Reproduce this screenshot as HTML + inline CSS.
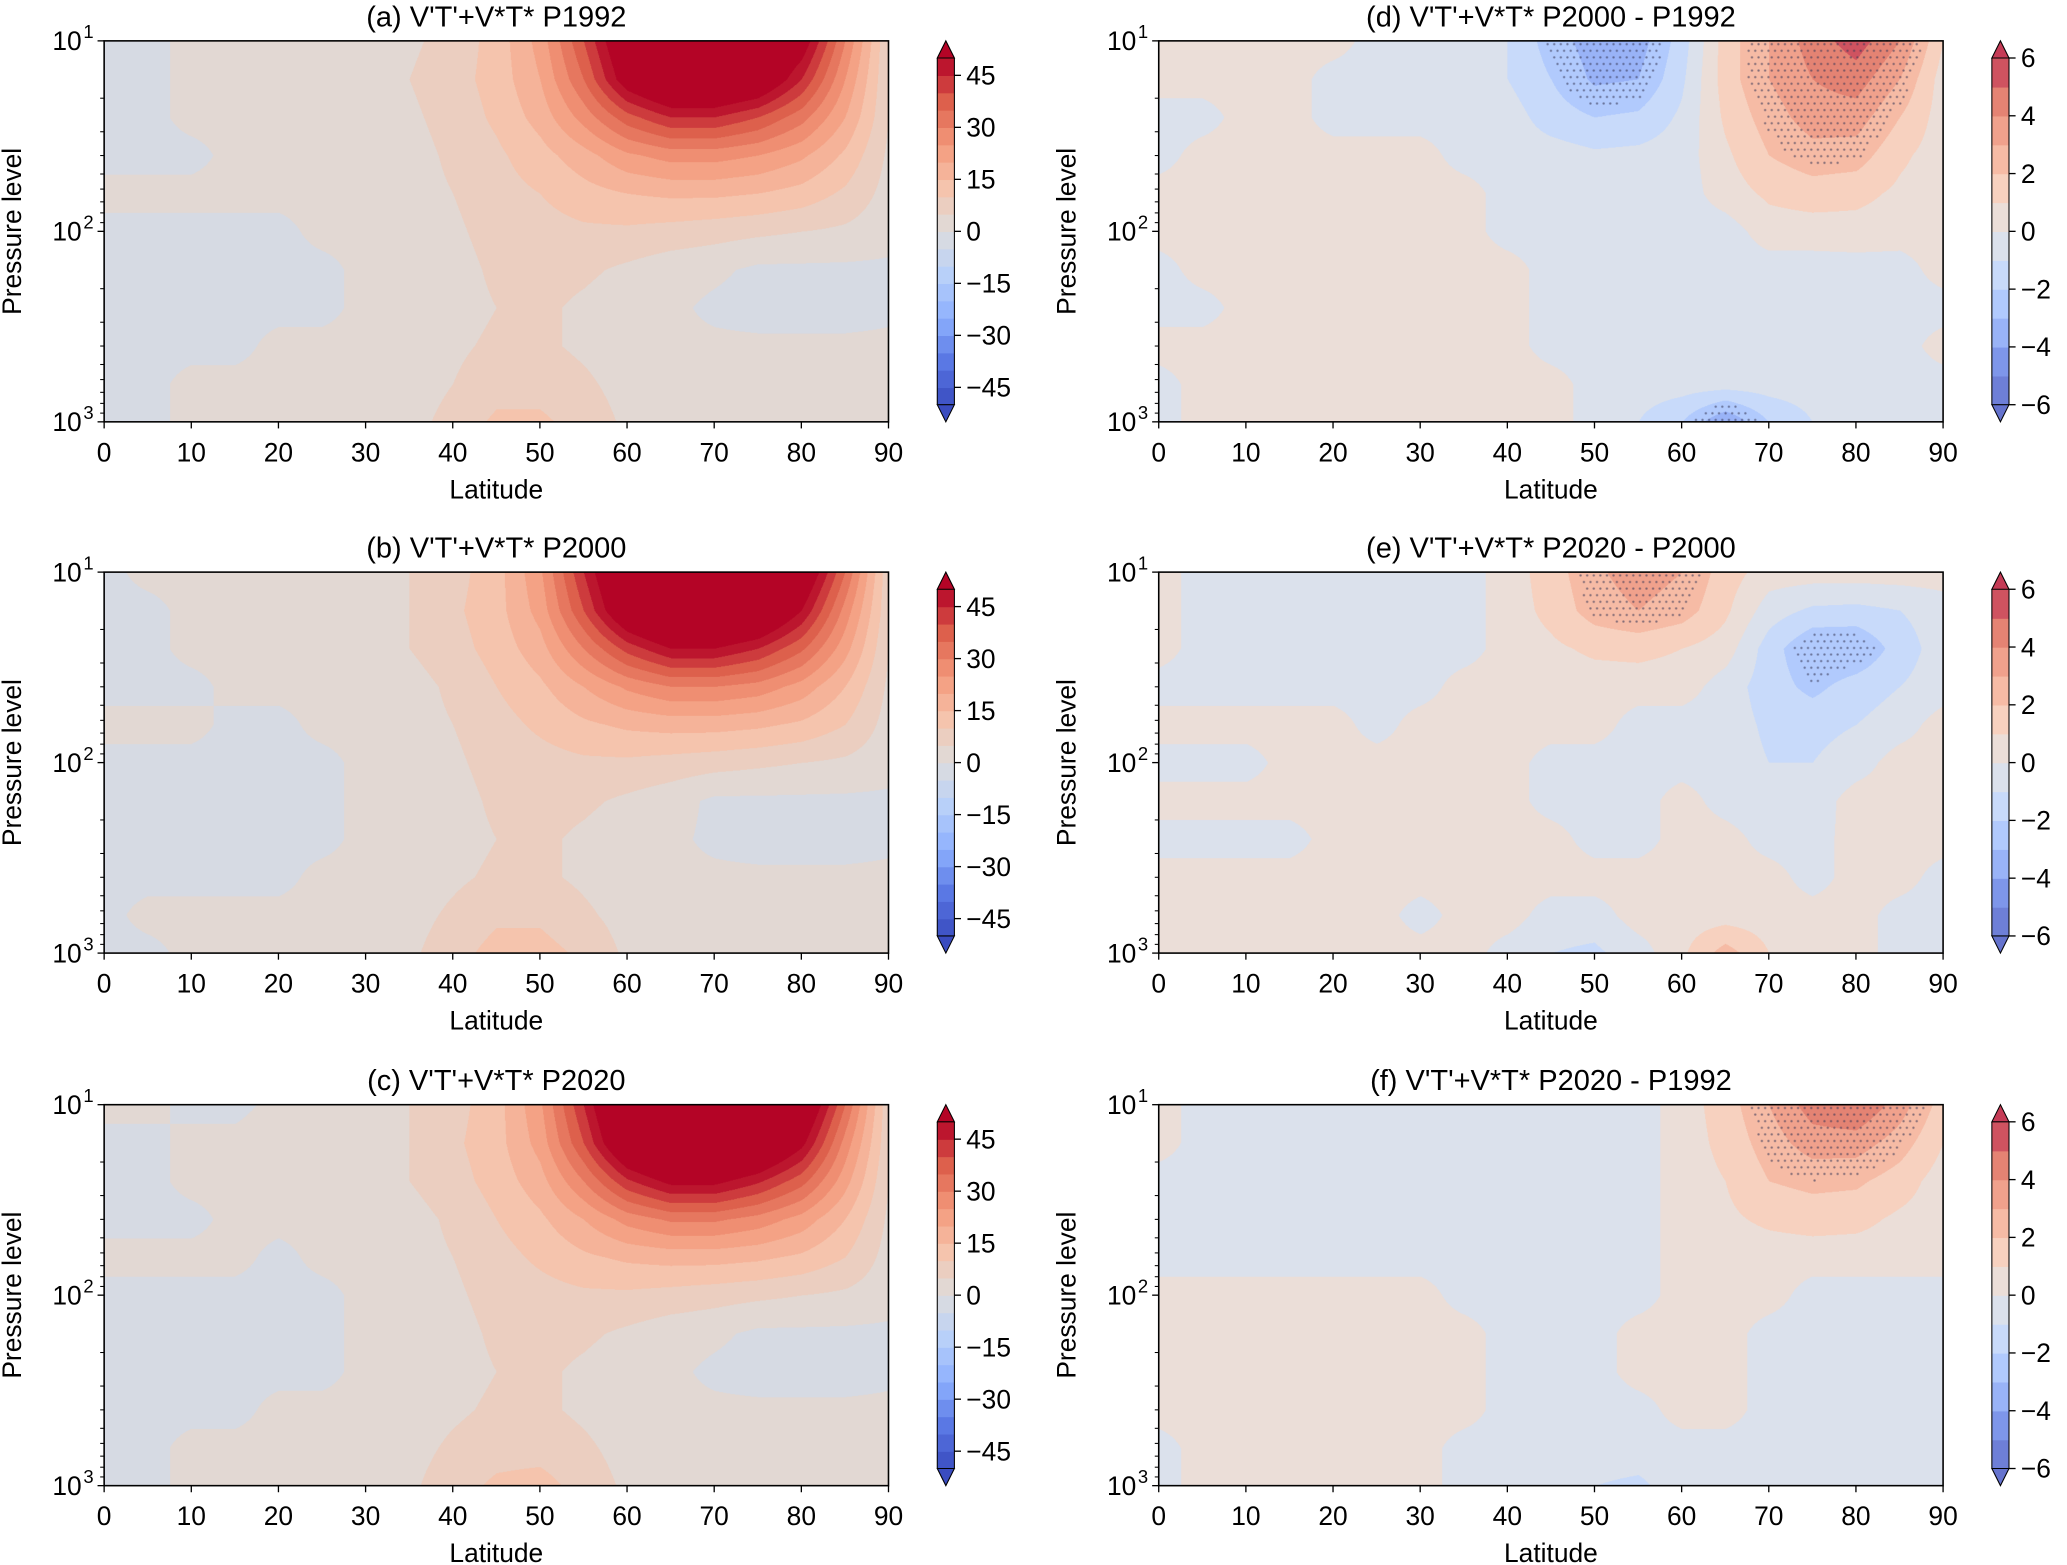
<!DOCTYPE html>
<html><head><meta charset="utf-8">
<style>
html,body{margin:0;padding:0;background:#fff;overflow:hidden}
#wrap{position:absolute;left:0;top:0;width:1568px;height:1187px;transform:scale(1.318240);transform-origin:0 0;font-family:"Liberation Sans","DejaVu Sans",sans-serif}
canvas{position:absolute}
svg{position:absolute;left:0;top:0}
</style></head><body>
<div id="wrap">
<svg id="svg" width="1568" height="1187" viewBox="0 0 1568 1187"></svg>
</div>
<script>
const lats=[0,5,10,15,20,25,30,35,40,45,50,55,60,65,70,75,80,85,90];
const logLevels=[1.0,1.2,1.4,1.6,1.8,2.0,2.2,2.4,2.6,2.8,3.0];
const xTicks=[0,10,20,30,40,50,60,70,80,90];
const absTicks=[-45,-30,-15,0,15,30,45];
const diffTicks=[-6,-4,-2,0,2,4,6];
const fieldA=[
[-1,-1,1,1,1,2,3,4,7,12,22,40,60,70,70,65,55,30,5],
[-1,-1,1,1,2,2,3,5,8,12,20,35,55,65,65,60,45,25,5],
[-1,-1,1,1,1,2,3,4,7,11,17,27,38,45,45,40,32,20,5],
[-1,-1,-1,1,1,1,2,3,6,9,13,18,24,27,27,25,21,14,4],
[1,1,1,1,1,1,1,3,5,8,10,13,15,16,16,15,13,9,3],
[-1,-1,-1,-1,-1,1,1,2,4,7,8,9,9,8,7,6,5,4,2],
[-1,-1,-1,-1,-1,-1,1,2,3,6,7,6,4,2,1,-1,-1,-1,-1],
[-1,-1,-1,-1,-1,-1,1,2,3,5,6,4,2,1,-1,-2,-2,-2,-1],
[-1,-1,-1,-1,1,1,1,2,4,6,6,4,2,1,1,1,1,1,1],
[-1,-1,1,1,1,1,1,2,5,8,8,6,3,1,1,1,1,1,1],
[-1,-1,1,1,1,1,1,3,7,11,11,8,4,1,1,1,1,1,1]];
const fieldB=[
[-1,1,1,1,1,2,3,5,8,13,24,45,65,75,75,70,60,35,6],
[-1,-1,1,1,2,2,3,5,9,13,22,40,60,70,70,65,50,28,6],
[-1,-1,1,1,1,2,3,5,8,12,18,30,42,50,50,45,36,22,5],
[-1,-1,-1,1,1,1,2,3,6,10,14,20,26,30,30,28,23,15,4],
[1,1,1,-1,-1,1,1,3,5,8,11,14,16,17,17,16,14,10,3],
[-1,-1,-1,-1,-1,-1,1,2,4,7,8,9,9,8,7,6,5,4,2],
[-1,-1,-1,-1,-1,-1,1,2,3,6,7,6,4,2,-1,-1,-1,-1,-1],
[-1,-1,-1,-1,-1,-1,1,2,3,5,6,4,2,1,-1,-2,-2,-2,-1],
[-1,-1,-1,-1,-1,1,1,2,4,6,6,4,2,1,1,1,1,1,1],
[-1,1,1,1,1,1,1,3,6,9,9,6,3,1,1,1,1,1,1],
[-1,-1,1,1,1,1,2,4,8,12,12,9,4,1,1,1,1,1,1]];
const fieldC=[
[1,1,-1,-1,1,2,3,5,8,13,24,45,68,78,78,72,62,35,6],
[-1,-1,1,1,2,2,3,5,9,13,22,40,62,72,72,66,52,28,6],
[-1,-1,1,1,1,2,3,5,8,12,18,30,44,52,52,46,37,22,5],
[-1,-1,-1,1,1,1,2,3,6,10,14,20,27,31,31,28,23,15,4],
[1,1,1,1,-1,1,1,3,5,8,11,14,16,17,17,16,14,10,3],
[-1,-1,-1,-1,-1,-1,1,2,4,7,8,9,9,8,7,6,5,4,2],
[-1,-1,-1,-1,-1,-1,1,2,3,6,7,6,4,2,1,-1,-1,-1,-1],
[-1,-1,-1,-1,-1,-1,1,2,3,5,6,4,2,1,-1,-2,-2,-2,-1],
[-1,-1,-1,-1,1,1,1,2,4,6,6,4,2,1,1,1,1,1,1],
[-1,-1,1,1,1,1,1,3,6,8,8,6,3,1,1,1,1,1,1],
[-1,-1,1,1,1,1,2,4,8,11,12,8,4,1,1,1,1,1,1]];
const fieldD=[
[.5,.5,.5,.5,.5,-.5,-.5,-.5,-1,-2.5,-3.5,-3.5,-1.5,1.5,3,4.5,5.5,4,1],
[.5,.5,.5,.5,-.5,-.5,-.5,-.5,-1,-2,-3.2,-3,-1.2,1.5,3,4,4.5,3,.5],
[-.5,-.5,.5,.5,-.5,-.5,-.5,-.5,-.5,-1.5,-2,-1.8,-.8,1.2,2.5,3.5,3.5,2,.5],
[-.5,.5,.5,.5,.5,.5,.5,-.5,-.5,-.5,-.8,-.7,-.5,.8,2,2.6,2.5,1.2,.5],
[.5,.5,.5,.5,.5,.5,.5,.5,-.5,-.5,-.5,-.5,-.5,.5,1.2,1.5,1.3,.8,.5],
[.5,.5,.5,.5,.5,.5,.5,.5,-.5,-.5,-.5,-.5,-.5,-.5,.5,.5,.6,.5,.5],
[-.5,.5,.5,.5,.5,.5,.5,.5,.5,-.5,-.5,-.5,-.5,-.5,-.5,-.5,-.5,-.5,.5],
[-.5,-.5,.5,.5,.5,.5,.5,.5,.5,-.5,-.5,-.5,-.5,-.5,-.5,-.5,-.5,-.5,-.5],
[.5,.5,.5,.5,.5,.5,.5,.5,.5,-.5,-.5,-.5,-.5,-.5,-.5,-.5,-.5,-.5,.5],
[-.5,.5,.5,.5,.5,.5,.5,.5,.5,.5,-.5,-.5,-.5,-.5,-.5,-.5,-.5,-.5,-.5],
[-.5,.5,.5,.5,.5,.5,.5,.5,.5,.5,-.5,-1,-2,-4,-2,-1,-.5,-.5,-.5]];
const fieldE=[
[.5,-.5,-.5,-.5,-.5,-.5,-.5,-.5,.5,1.5,2.8,3.5,3,1.5,.5,.5,.5,.5,.5],
[.5,-.5,-.5,-.5,-.5,-.5,-.5,-.5,.5,1.3,2.5,3,2.5,1.2,-.5,-1.2,-1.3,-1,-.5],
[.5,-.5,-.5,-.5,-.5,-.5,-.5,-.5,.5,.8,1.2,1.3,1,.5,-1.5,-3,-3,-1.5,-.5],
[-.5,-.5,-.5,-.5,-.5,-.5,-.5,.5,.5,.5,.5,.5,.5,-.5,-1.5,-2.3,-1.5,-1,-.5],
[.5,.5,.5,.5,.5,-.5,.5,.5,.5,.5,.5,-.5,-.5,-.5,-1.2,-1.3,-1,-.5,.5],
[-.5,-.5,-.5,.5,.5,.5,.5,.5,.5,-.5,-.5,-.5,-.5,-.5,-1,-1,-.5,.5,.5],
[.5,.5,.5,.5,.5,.5,.5,.5,.5,-.5,-.5,-.5,.5,-.5,-.8,-.6,.5,.5,.5],
[-.5,-.5,-.5,-.5,.5,.5,.5,.5,.5,.5,-.5,-.5,.5,.5,-.5,-.5,.5,.5,.5],
[.5,.5,.5,.5,.5,.5,.5,.5,.5,.5,.5,.5,.5,.5,.5,-.5,.5,.5,-.5],
[.5,.5,.5,.5,.5,.5,-.5,.5,.5,-.5,-.5,.5,.5,.5,.5,.5,.5,-.5,-.5],
[.5,.5,.5,.5,.5,.5,.5,.5,-.5,-1,-1.2,-.5,.8,2.5,1,.5,.5,-.5,-.5]];
const fieldF=[
[.5,-.5,-.5,-.5,-.5,-.5,-.5,-.5,-.5,-.5,-.5,-.5,.5,1.5,3,4.5,5,3.5,1.5],
[.5,-.5,-.5,-.5,-.5,-.5,-.5,-.5,-.5,-.5,-.5,-.5,.5,1.3,2.5,3.5,3.5,2.5,1],
[-.5,-.5,-.5,-.5,-.5,-.5,-.5,-.5,-.5,-.5,-.5,-.5,.5,1,2,2.3,2.2,1.5,.5],
[-.5,-.5,-.5,-.5,-.5,-.5,-.5,-.5,-.5,-.5,-.5,-.5,.5,.8,1.2,1.4,1.3,.8,.5],
[-.5,-.5,-.5,-.5,-.5,-.5,-.5,-.5,-.5,-.5,-.5,-.5,.5,.5,.5,.5,.5,.5,.5],
[.5,.5,.5,.5,.5,.5,.5,-.5,-.5,-.5,-.5,-.5,.5,.5,.5,-.5,-.5,-.5,-.5],
[.5,.5,.5,.5,.5,.5,.5,.5,-.5,-.5,-.5,.5,.5,.5,-.5,-.5,-.5,-.5,-.5],
[.5,.5,.5,.5,.5,.5,.5,.5,-.5,-.5,-.5,.5,.5,.5,-.5,-.5,-.5,-.5,-.5],
[.5,.5,.5,.5,.5,.5,.5,.5,-.5,-.5,-.5,-.5,.5,.5,-.5,-.5,-.5,-.5,-.5],
[-.5,.5,.5,.5,.5,.5,.5,-.5,-.5,-.5,-.5,-.5,-.5,-.5,-.5,-.5,-.5,-.5,-.5],
[-.5,.5,.5,.5,.5,.5,.5,-.5,-.5,-.5,-1,-1.2,-.5,-.5,-.5,-.5,-.5,-.5,-.5]];

const panels=[
 {id:'a',title:"(a) V'T'+V*T* P1992",f:fieldA,x0:79,y0:31,diff:false},
 {id:'b',title:"(b) V'T'+V*T* P2000",f:fieldB,x0:79,y0:434,diff:false},
 {id:'c',title:"(c) V'T'+V*T* P2020",f:fieldC,x0:79,y0:838,diff:false},
 {id:'d',title:"(d) V'T'+V*T* P2000 - P1992",f:fieldD,x0:879,y0:31,diff:true},
 {id:'e',title:"(e) V'T'+V*T* P2020 - P2000",f:fieldE,x0:879,y0:434,diff:true},
 {id:'f',title:"(f) V'T'+V*T* P2020 - P1992",f:fieldF,x0:879,y0:838,diff:true}];
const W=595,H=289;
const cw=[[0,58,76,192],[.125,90,120,228],[.25,141,176,254],[.375,184,208,249],[.5,221,221,221],[.625,245,196,173],[.75,244,154,123],[.875,221,96,76],[1,180,4,38]];
function cmap(t){t=Math.max(0,Math.min(1,t));for(let i=1;i<cw.length;i++){if(t<=cw[i][0]){const a=cw[i-1],b=cw[i],u=(t-a[0])/(b[0]-a[0]);return [0,1,2].map(k=>Math.round(a[k+1]+(b[k+1]-a[k+1])*u));}}return [180,4,38];}
function spec(p){return p.diff?{lo:-6,hi:6,step:1,alpha:0.78}:{lo:-50,hi:50,step:5,alpha:1};}
function binColor(v,s){const n=(s.hi-s.lo)/s.step;let i=Math.floor((v-s.lo)/s.step);let t;if(i<0)t=0;else if(i>=n)t=1;else t=(i+0.5)/n;const c=cmap(t);return c.map(x=>Math.round(255-(255-x)*s.alpha));}
function sample(f,lat,ly){let cx=lat/5,cy=(ly-1)/0.2;cx=Math.max(0,Math.min(18-1e-6,cx));cy=Math.max(0,Math.min(10-1e-6,cy));const i=Math.floor(cx),j=Math.floor(cy),u=cx-i,v=cy-j;return f[j][i]*(1-u)*(1-v)+f[j][i+1]*u*(1-v)+f[j+1][i]*(1-u)*v+f[j+1][i+1]*u*v;}
const xs=(p,lat)=>p.x0+lat/90*W, ys=(p,ly)=>p.y0+(ly-1)/2*H;
const svg=document.getElementById('svg'),wrap=document.getElementById('wrap');
const NS='http://www.w3.org/2000/svg';
function el(tag,attrs,parent,txt){const e=document.createElementNS(NS,tag);for(const k in attrs)e.setAttribute(k,attrs[k]);if(txt!==undefined)e.textContent=txt;(parent||svg).appendChild(e);return e;}
panels.forEach(p=>{
 const s=spec(p);
 const cv=document.createElement('canvas');cv.width=W*2;cv.height=H*2;
 cv.style.left=p.x0+'px';cv.style.top=p.y0+'px';cv.style.width=W+'px';cv.style.height=H+'px';
 
 
 wrap.insertBefore(cv,svg);
 const ctx=cv.getContext('2d');const img=ctx.createImageData(cv.width,cv.height);
 for(let y=0;y<cv.height;y++)for(let x=0;x<cv.width;x++){
  const v=sample(p.f,x/cv.width*90,1+y/cv.height*2);const c=binColor(v,s);const o=(y*cv.width+x)*4;
  img.data[o]=c[0];img.data[o+1]=c[1];img.data[o+2]=c[2];img.data[o+3]=255;}
 ctx.putImageData(img,0,0);
 if(p.diff){ctx.fillStyle='rgba(60,60,90,0.6)';
  let r=0;
  for(let y=5;y<cv.height;y+=10,r++)for(let x=(r%2?5:10);x<cv.width;x+=10){
   const v=sample(p.f,x/cv.width*90,1+y/cv.height*2);if(Math.abs(v)>2.3){ctx.beginPath();ctx.arc(x,y,1.8,0,7);ctx.fill();}}}
 const g=el('g',{});
 
 
 const cxm=p.x0+W/2;
 const tt=el('text',{x:cxm,y:p.y0-11,'font-size':22,'text-anchor':'middle'},g,p.title);
 
 
 el('rect',{x:p.x0,y:p.y0,width:W,height:H,fill:'none',stroke:'#000','stroke-width':1.2},g);
 xTicks.forEach(t=>{const x=xs(p,t);el('line',{x1:x,x2:x,y1:p.y0+H,y2:p.y0+H+5,stroke:'#000'},g);
  const l=el('text',{x:x,y:p.y0+H+30,'font-size':20,'text-anchor':'middle'},g,String(t));
  
  });
 const xl=el('text',{x:cxm,y:p.y0+H+58,'font-size':20,'text-anchor':'middle'},g,'Latitude');
 
 
 [1,2,3].forEach(e=>{const y=ys(p,e);el('line',{x1:p.x0-5,x2:p.x0,y1:y,y2:y,stroke:'#000'},g);
  const tx=el('text',{x:p.x0-17,y:y+7,'font-size':20,'text-anchor':'end'},g,'10');
  
  
  el('text',{x:p.x0-8,y:y-2,'font-size':14,'text-anchor':'end'},g,String(e));});
 [1,2].forEach(e=>{for(let m=2;m<10;m++){const y=ys(p,e+Math.log10(m));el('line',{x1:p.x0-3,x2:p.x0,y1:y,y2:y,stroke:'#000','stroke-width':0.8},g);}});
 const yl=el('text',{x:0,y:0,'font-size':20,'text-anchor':'middle',transform:`translate(${p.x0-63},${p.y0+H/2}) rotate(-90)`},g,'Pressure level');
 
 
 const bx=p.x0+W+37,bw=13,top=p.y0+13,bot=p.y0+H-13;
 const cb=el('g',{},g);
 
 
 const n=(s.hi-s.lo)/s.step,bh=(bot-top)/n;
 for(let i=0;i<n;i++){const c=binColor(s.lo+(i+0.5)*s.step,s);el('rect',{x:bx,y:bot-(i+1)*bh,width:bw,height:bh+0.5,fill:`rgb(${c})`},cb);}
 const ch=binColor(s.hi+1,s),cl=binColor(s.lo-1,s);
 el('polygon',{points:`${bx},${top} ${bx+bw},${top} ${bx+bw/2},${p.y0}`,fill:`rgb(${ch})`,stroke:'#000','stroke-width':0.8},cb);
 el('polygon',{points:`${bx},${bot} ${bx+bw},${bot} ${bx+bw/2},${p.y0+H}`,fill:`rgb(${cl})`,stroke:'#000','stroke-width':0.8},cb);
 el('polyline',{points:`${bx},${top} ${bx},${bot}`,stroke:'#000','stroke-width':0.8,fill:'none'},cb);
 el('polyline',{points:`${bx+bw},${top} ${bx+bw},${bot}`,stroke:'#000','stroke-width':0.8,fill:'none'},cb);
 (p.diff?diffTicks:absTicks).forEach(t=>{const y=bot-(t-s.lo)/(s.hi-s.lo)*(bot-top);
  el('line',{x1:bx+bw,x2:bx+bw+5,y1:y,y2:y,stroke:'#000'},cb);
  const l=el('text',{x:bx+bw+9,y:y+7,'font-size':20},cb,t<0?'\u2212'+(-t):String(t));
  
  });
});
</script>
</body></html>
